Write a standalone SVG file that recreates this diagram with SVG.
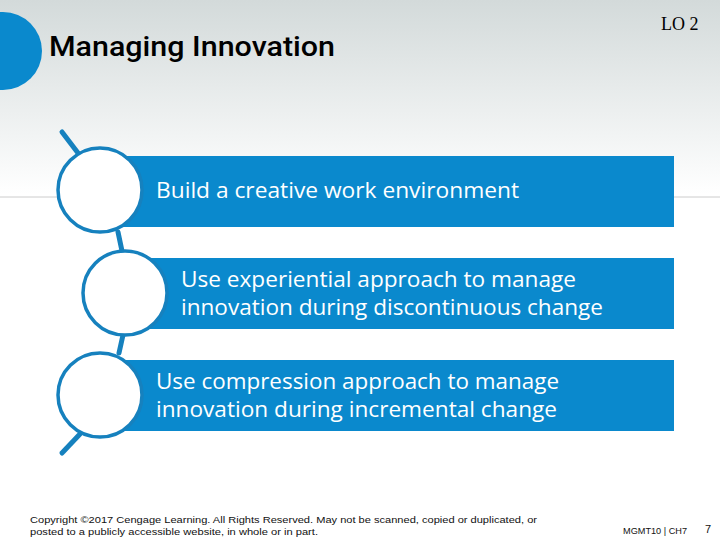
<svg xmlns="http://www.w3.org/2000/svg" width="720" height="540" viewBox="0 0 720 540">
<defs>
<linearGradient id="bg" x1="0" y1="0" x2="0" y2="1">
<stop offset="0" stop-color="#d3dada"/>
<stop offset="0.36" stop-color="#ffffff"/>
<stop offset="1" stop-color="#ffffff"/>
</linearGradient>
<style>
.box{fill:#0a89cd}
.ring{fill:#ffffff;stroke:#1681be;stroke-width:3.5}
.conn{stroke:#1681be;stroke-width:5;stroke-linecap:round;fill:none}
.lbl{font-family:"Open Sans","Noto Sans",sans-serif;font-size:21px;fill:#ffffff}
.foot{font-family:"Liberation Sans",Arial,sans-serif;font-size:9px;fill:#111111}
</style>
</defs>
<rect x="0" y="0" width="720" height="540" fill="url(#bg)"/>
<line x1="0" y1="197" x2="720" y2="197" stroke="#cccccc" stroke-width="1"/>
<circle cx="3" cy="51" r="39" fill="#0a89cd"/>
<text x="49" y="56" font-family="Roboto,'Liberation Sans',sans-serif" font-size="27" font-weight="500" fill="#000000" textLength="286" lengthAdjust="spacingAndGlyphs">Managing Innovation</text>
<text x="661" y="30" font-family="'Liberation Serif',serif" font-size="18" fill="#000000">LO 2</text>
<g id="connectors">
<line class="conn" x1="62" y1="132" x2="78" y2="153"/>
<line class="conn" x1="118" y1="232" x2="122" y2="251"/>
<line class="conn" x1="123" y1="335" x2="119" y2="353"/>
<line class="conn" x1="80" y1="434" x2="62" y2="453"/>
</g>
<g id="node1">
<rect class="box" x="100" y="156" width="574" height="71"/>
<circle class="ring" cx="100" cy="190" r="42"/>
<text class="lbl" x="156" y="198" textLength="363" lengthAdjust="spacingAndGlyphs">Build a creative work environment</text>
</g>
<g id="node2">
<rect class="box" x="125" y="258" width="549" height="71"/>
<circle class="ring" cx="125" cy="293" r="42"/>
<text class="lbl" x="181" y="287" textLength="395" lengthAdjust="spacingAndGlyphs">Use experiential approach to manage</text>
<text class="lbl" x="181" y="315" textLength="422" lengthAdjust="spacingAndGlyphs">innovation during discontinuous change</text>
</g>
<g id="node3">
<rect class="box" x="100" y="360" width="574" height="71"/>
<circle class="ring" cx="100" cy="395" r="42"/>
<text class="lbl" x="156" y="389" textLength="403" lengthAdjust="spacingAndGlyphs">Use compression approach to manage</text>
<text class="lbl" x="156" y="417" textLength="401" lengthAdjust="spacingAndGlyphs">innovation during incremental change</text>
</g>
<text class="foot" x="30" y="523" textLength="507" lengthAdjust="spacingAndGlyphs">Copyright ©2017 Cengage Learning. All Rights Reserved. May not be scanned, copied or duplicated, or</text>
<text class="foot" x="30" y="535" textLength="288" lengthAdjust="spacingAndGlyphs">posted to a publicly accessible website, in whole or in part.</text>
<text class="foot" x="623" y="534" font-size="8" textLength="64" lengthAdjust="spacingAndGlyphs">MGMT10 | CH7</text>
<text x="705" y="533" font-family="'Liberation Sans',Arial,sans-serif" font-size="11" fill="#111111">7</text>
</svg>
